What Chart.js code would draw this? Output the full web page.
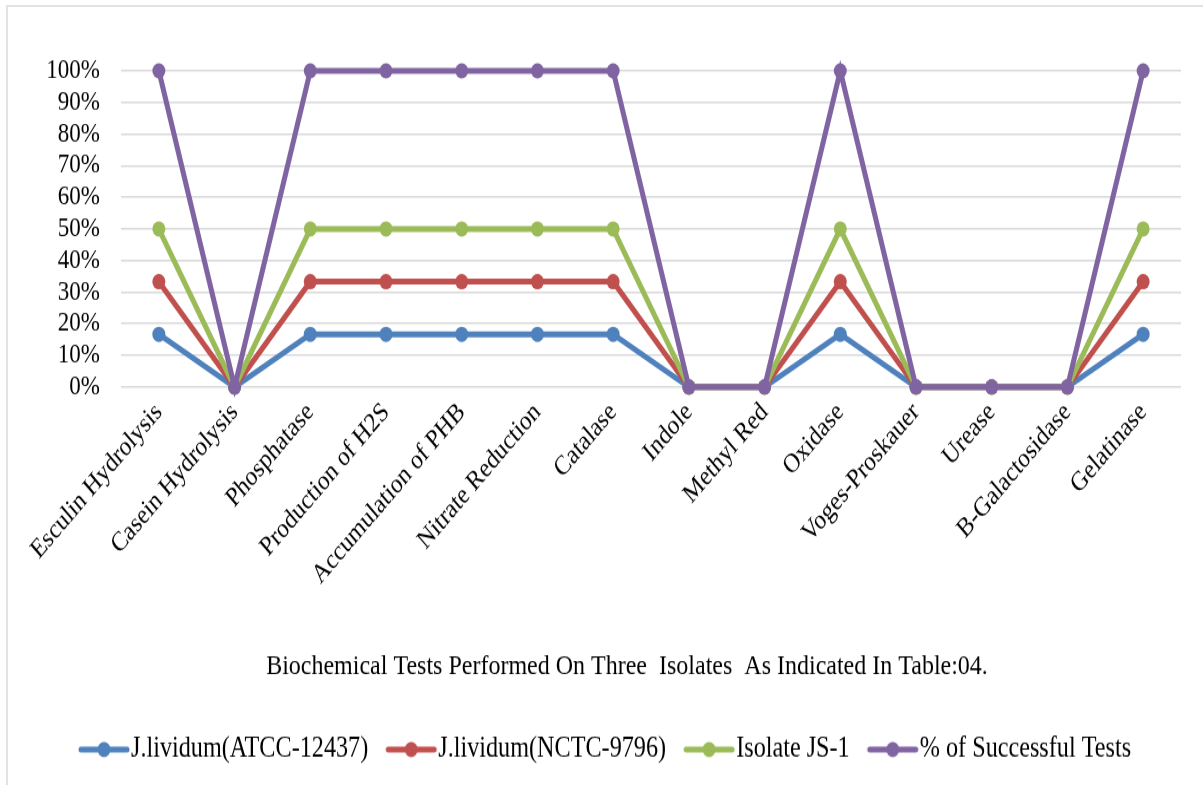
<!DOCTYPE html>
<html>
<head>
<meta charset="utf-8">
<title>Biochemical Tests</title>
<script src="https://cdn.jsdelivr.net/npm/chart.js@4.4.1/dist/chart.umd.min.js"></script>
<style>
  html, body { margin: 0; padding: 0; background: #ffffff; }
  #wrap { position: relative; width: 1203px; height: 785px; overflow: hidden; }
  /* the drawing is laid out at 1203x665 and shown stretched to the full height */
  #wrap canvas {
    position: absolute; left: 0; top: 0;
    transform: scaleY(1.18045); transform-origin: 0 0;
  }
  #frame {
    position: absolute; left: 6px; top: 5px; width: 1300px; height: 900px;
    border-left: 2px solid #e3e3e3; border-top: 2px solid #e3e3e3;
    pointer-events: none;
  }
</style>
</head>
<body>
<div id="wrap">
  <canvas id="chart" width="1203" height="665"></canvas>
  <div id="frame"></div>
</div>
<script>
// Test names along the x axis
const categories = [
  'Esculin Hydrolysis', 'Casein Hydrolysis', 'Phosphatase', 'Production of H2S',
  'Accumulation of PHB', 'Nitrate Reduction', 'Catalase', 'Indole', 'Methyl Red',
  'Oxidase', 'Voges-Proskauer', 'Urease', 'B-Galactosidase', 'Gelatinase'
];

// Series values (percent)
const atcc12437 = [16.67, 0, 16.67, 16.67, 16.67, 16.67, 16.67, 0, 0, 16.67, 0, 0, 0, 16.67];
const nctc9796  = [33.33, 0, 33.33, 33.33, 33.33, 33.33, 33.33, 0, 0, 33.33, 0, 0, 0, 33.33];
const isolateJS1 = [50, 0, 50, 50, 50, 50, 50, 0, 0, 50, 0, 0, 0, 50];
const successful = [100, 0, 100, 100, 100, 100, 100, 0, 0, 100, 0, 0, 0, 100];

const seriesNames = ['J.lividum(ATCC-12437)', 'J.lividum(NCTC-9796)', 'Isolate JS-1', '% of Successful Tests'];
const seriesColors = ['#4F81BD', '#C0504D', '#9BBB59', '#8064A2'];

// Y axis tick values
const yTicks = [0, 10, 20, 30, 40, 50, 60, 70, 80, 90, 100];

// Axis caption; the trailing no-break spaces nudge the centred caption left
const xTitle = 'Biochemical Tests Performed On Three  Isolates  As Indicated In Table:04.' +
  '\u00a0\u00a0\u00a0\u00a0\u00a0\u00a0\u00a0\u00a0';

const SERIF = '"Liberation Serif", "Times New Roman", serif';

// Legend swatch: a short line with a dot on it
function makeSwatch(color) {
  const c = document.createElement('canvas');
  c.width = 64; c.height = 16;
  const g = c.getContext('2d');
  g.strokeStyle = color;
  g.lineWidth = 5;
  g.lineCap = 'round';
  g.beginPath();
  g.moveTo(9, 8); g.lineTo(55, 8);
  g.stroke();
  g.fillStyle = color;
  g.beginPath();
  g.arc(32, 8, 6.5, 0, Math.PI * 2);
  g.fill();
  return c;
}
const swatches = seriesColors.map(makeSwatch);

const seriesData = [atcc12437, nctc9796, isolateJS1, successful];

const datasets = seriesData.map((d, i) => ({
  label: seriesNames[i],
  data: d,
  borderColor: seriesColors[i],
  backgroundColor: seriesColors[i],
  pointBackgroundColor: seriesColors[i],
  pointBorderColor: seriesColors[i],
  borderWidth: 5,
  pointRadius: 6.5,
  pointBorderWidth: 0,
  tension: 0,
  fill: false,
  clip: false,
  order: seriesData.length - 1 - i
}));

new Chart(document.getElementById('chart'), {
  type: 'line',
  data: { labels: categories, datasets: datasets },
  options: {
    responsive: false,
    animation: false,
    devicePixelRatio: 1,
    layout: { padding: { top: 60, right: 22, left: 39, bottom: 8 } },
    scales: {
      x: {
        offset: true,
        grid: { display: false, drawTicks: false },
        border: { display: false },
        ticks: {
          autoSkip: false,
          minRotation: 45,
          maxRotation: 45,
          padding: 8,
          color: '#000000',
          font: { family: SERIF, size: 23 }
        },
        title: {
          display: true,
          text: xTitle,
          color: '#000000',
          font: { family: SERIF, size: 24 },
          padding: { top: 0, bottom: 16 }
        },
        afterFit: (scale) => { scale.height = 267; }
      },
      y: {
        min: 0,
        max: 100,
        afterBuildTicks: (scale) => { scale.ticks = yTicks.map(v => ({ value: v })); },
        grid: { color: '#d9d9d9', lineWidth: 1.5, drawTicks: false },
        border: { display: false },
        ticks: {
          autoSkip: false,
          padding: 21,
          color: '#000000',
          font: { family: SERIF, size: 23 },
          callback: (v) => v + '%'
        },
        afterFit: (scale) => { scale.width = 82; }
      }
    },
    plugins: {
      tooltip: { enabled: false },
      title: { display: false },
      legend: {
        position: 'bottom',
        labels: {
          usePointStyle: true,
          pointStyleWidth: 30,
          boxHeight: 16,
          padding: 28,
          color: '#000000',
          font: { family: SERIF, size: 24.2 },
          generateLabels: (chart) => chart.data.datasets.map((ds, i) => ({
            text: ds.label,
            fillStyle: ds.borderColor,
            strokeStyle: ds.borderColor,
            lineWidth: 0,
            pointStyle: swatches[i],
            fontColor: '#000000',
            hidden: false,
            datasetIndex: i
          }))
        }
      }
    }
  }
});
</script>
</body>
</html>
